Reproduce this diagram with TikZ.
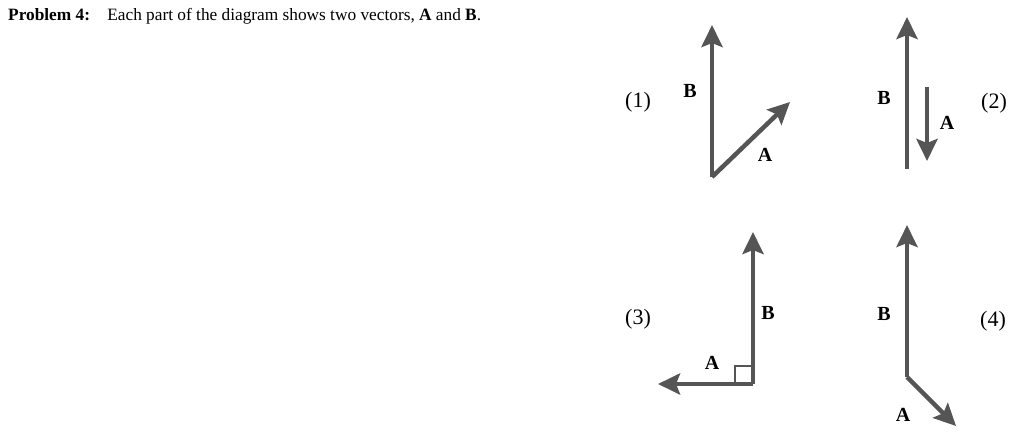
\documentclass[tikz,border=0pt]{standalone}
\usepackage{fontspec}
\setmainfont{Liberation Serif}
\usetikzlibrary{arrows.meta}
\definecolor{vecgray}{HTML}{555555}
\tikzset{
  vec/.style={line width=4.5pt, draw=vecgray, -{Stealth[length=22pt,width=21pt,inset=4pt]}},
  lab/.style={font=\fontsize{20}{22}\selectfont\bfseries},
  num/.style={font=\fontsize{22}{24}\selectfont}
}
\begin{document}
\begin{tikzpicture}[x=1pt,y=-1pt]
\useasboundingbox (0,0) rectangle (1024,441);
\node [anchor=base west, font=\fontsize{17.3}{20}\selectfont, inner sep=0pt] (title) at (8,21)
  {\textbf{Problem 4:}\quad Each part of the diagram shows two vectors, \textbf{A} and \textbf{B}.};
% part (1)
\coordinate (o1) at (712,177);
\coordinate (b1) at (712,25);
\coordinate (a1) at (790,102);
\draw [vec] (o1) -- (b1);
\draw [vec] (o1) -- (a1);
\node [lab] (lb1) at (690,91) {B};
\node [lab] (la1) at (765,155) {A};
\node [num] (n1) at (638,102) {(1)};
% part (2)
\coordinate (o2) at (907,169);
\coordinate (b2) at (907,17);
\coordinate (s2) at (927,87);
\coordinate (a2) at (927,161);
\draw [vec] (o2) -- (b2);
\draw [vec] (s2) -- (a2);
\node [lab] (lb2) at (884,98) {B};
\node [lab] (la2) at (947,123) {A};
\node [num] (n2) at (994,103) {(2)};
% part (3)
\coordinate (o3) at (753,384);
\coordinate (b3) at (753,232);
\coordinate (a3) at (658,384);
\draw [vec] (o3) -- (b3);
\draw [vec] (o3) -- (a3);
\draw [line width=2pt, vecgray] (735,384) |- (753,366);
\node [lab] (lb3) at (768,313) {B};
\node [lab] (la3) at (712,363) {A};
\node [num] (n3) at (638,319) {(3)};
% part (4)
\coordinate (o4) at (907,377);
\coordinate (b4) at (907,225);
\coordinate (a4) at (956,426);
\draw [vec] (o4) -- (b4);
\draw [vec] (o4) -- (a4);
\node [lab] (lb4) at (884,314) {B};
\node [lab] (la4) at (903,415) {A};
\node [num] (n4) at (993,321) {(4)};
\end{tikzpicture}
\end{document}
